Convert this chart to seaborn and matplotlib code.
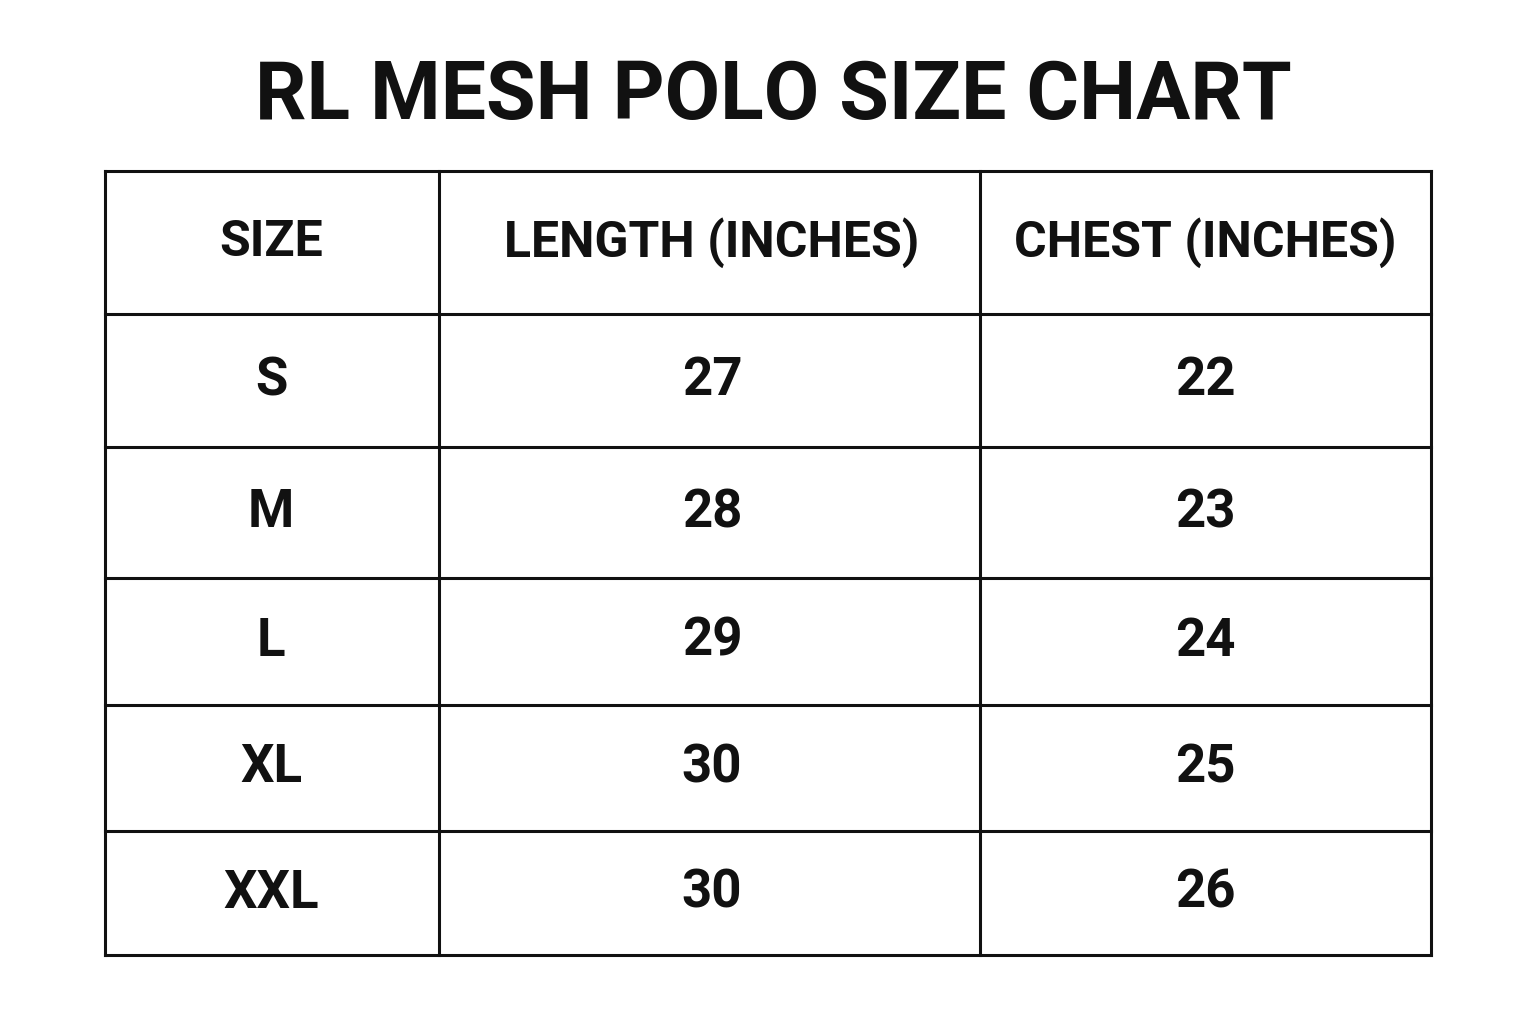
import matplotlib
matplotlib.use("Agg")
import matplotlib.pyplot as plt
import seaborn as sns

sns.set_theme(style="white")
plt.rcParams['font.family'] = ['Roboto', 'DejaVu Sans']

title = "RL MESH POLO SIZE CHART"
headers = ["SIZE", "LENGTH (INCHES)", "CHEST (INCHES)"]
sizes = ["S", "M", "L", "XL", "XXL"]
length_in = [27, 28, 29, 30, 30]
chest_in = [22, 23, 24, 25, 26]

col_edges = [105, 439, 980, 1431]
row_edges = [171, 314, 447, 578, 705, 831, 955]
col_centers = [271, 712, 1205]

fig = plt.figure(figsize=(15.36, 10.24), dpi=100)
ax = fig.add_axes([0, 0, 1, 1])
ax.set_xlim(0, 1536)
ax.set_ylim(1024, 0)
ax.axis("off")

ax.text(773, 97, title, ha="center", va="center", fontsize=58, fontweight="bold", color="#111111")

for x in col_edges:
    ax.plot([x, x], [row_edges[0], row_edges[-1]], color="#111111", lw=2.2, solid_capstyle="projecting")
for y in row_edges:
    ax.plot([col_edges[0], col_edges[-1]], [y, y], color="#111111", lw=2.2, solid_capstyle="projecting")

row_centers = [(row_edges[i] + row_edges[i + 1]) / 2 for i in range(len(row_edges) - 1)]
for c, h in zip(col_centers, headers):
    ax.text(c, row_centers[0], h, ha="center", va="center", fontsize=36, fontweight="bold", color="#111111")
for i, (s, l, ch) in enumerate(zip(sizes, length_in, chest_in)):
    y = row_centers[i + 1]
    for c, v in zip(col_centers, [s, str(l), str(ch)]):
        ax.text(c, y, v, ha="center", va="center", fontsize=38, fontweight="bold", color="#111111")

fig.savefig("out.png", dpi=100, facecolor="white")
